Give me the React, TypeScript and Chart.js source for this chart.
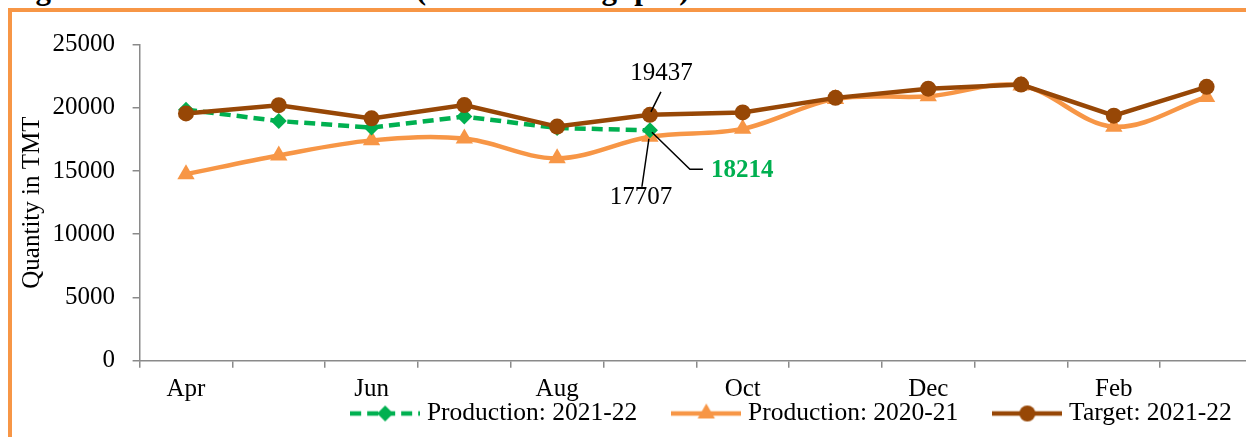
import React, { useEffect, useRef } from 'react';
import { Chart, registerables } from 'chart.js';

Chart.register(...registerables);

// ---- data ----
const MONTHS = ['Apr', 'May', 'Jun', 'Jul', 'Aug', 'Sep', 'Oct', 'Nov', 'Dec', 'Jan', 'Feb', 'Mar'];
const PROD_2021_22 = [19850, 18950, 18430, 19300, 18400, 18214];
const PROD_2020_21 = [14750, 16230, 17420, 17560, 16000, 17707, 18330, 20700, 20900, 21750, 18500, 20850];
const TARGET_2021_22 = [19550, 20200, 19160, 20210, 18510, 19437, 19630, 20780, 21510, 21830, 19370, 21650];
const Y_TICKS = [0, 5000, 10000, 15000, 20000, 25000];
const SERIES_NAMES = ['Production: 2021-22', 'Production: 2020-21', 'Target: 2021-22'];
const TITLE = 'Figure 3: Crude Oil Processed (Crude Throughput)';
const Y_TITLE = 'Quantity in TMT';
const CALLOUT_INDEX = 5;

// ---- styles ----
const GREEN = '#00B050';
const ORANGE = '#F79646';
const BROWN = '#974706';
const AXIS = '#8a8a8a';
const FONT = '"Liberation Serif", "Times New Roman", serif';
const LEGEND_TEXT_CENTER = 401.5; // canvas coords

function makeIcon(color: string, dash: number[], marker: string, lw: number, r: number) {
  const c = document.createElement('canvas');
  c.width = 70;
  c.height = 22;
  const ctx = c.getContext('2d') as CanvasRenderingContext2D;
  const cx = 35, cy = 11;
  ctx.strokeStyle = color;
  ctx.lineWidth = lw;
  ctx.setLineDash(dash);
  ctx.beginPath();
  ctx.moveTo(0, cy);
  ctx.lineTo(70, cy);
  ctx.stroke();
  ctx.setLineDash([]);
  ctx.fillStyle = color;
  ctx.beginPath();
  if (marker === 'circle') {
    ctx.arc(cx, cy, r, 0, Math.PI * 2);
  } else if (marker === 'triangle') {
    ctx.moveTo(cx, cy - r);
    ctx.lineTo(cx + r * 0.866, cy + r * 0.5);
    ctx.lineTo(cx - r * 0.866, cy + r * 0.5);
    ctx.closePath();
  } else {
    ctx.moveTo(cx, cy - r);
    ctx.lineTo(cx + r, cy);
    ctx.lineTo(cx, cy + r);
    ctx.lineTo(cx - r, cy);
    ctx.closePath();
  }
  ctx.fill();
  return c;
}

const legendShiftPlugin = {
  id: 'legendShift',
  afterLayout(chart: any) {
    const lg = chart.legend;
    if (!lg) return;
    const pad = lg.options.labels.padding;
    const fs = lg.options.labels.font.size;
    lg.top = LEGEND_TEXT_CENTER - pad - fs / 2;
    lg.bottom = chart.height;
    lg.height = lg.bottom - lg.top;
  },
};

const calloutPlugin = {
  id: 'callouts',
  afterDatasetsDraw(chart: any) {
    const ctx = chart.ctx as CanvasRenderingContext2D;
    const xs = chart.scales.x;
    const ys = chart.scales.y;
    const x = xs.getPixelForValue(CALLOUT_INDEX);
    const yT = ys.getPixelForValue(TARGET_2021_22[CALLOUT_INDEX]);
    const yP = ys.getPixelForValue(PROD_2020_21[CALLOUT_INDEX]);
    const yG = ys.getPixelForValue(PROD_2021_22[CALLOUT_INDEX]);
    ctx.save();
    ctx.strokeStyle = '#000';
    ctx.lineWidth = 1.5;
    ctx.beginPath();
    ctx.moveTo(x + 11, yT - 23);
    ctx.lineTo(x + 1, yT - 3);
    ctx.moveTo(x - 8, yP + 50);
    ctx.lineTo(x - 1, yP + 2);
    ctx.moveTo(x + 2, yG + 2);
    ctx.lineTo(x + 40, yG + 39);
    ctx.lineTo(x + 53, yG + 39);
    ctx.stroke();
    ctx.fillStyle = '#000';
    ctx.font = `25px ${FONT}`;
    ctx.textAlign = 'center';
    ctx.textBaseline = 'middle';
    ctx.fillText(String(TARGET_2021_22[CALLOUT_INDEX]), x + 11.5, yT - 41);
    ctx.fillText(String(PROD_2020_21[CALLOUT_INDEX]), x - 9, yP + 61);
    ctx.font = `bold 25px ${FONT}`;
    ctx.fillStyle = GREEN;
    ctx.textAlign = 'left';
    ctx.fillText(String(PROD_2021_22[CALLOUT_INDEX]), x + 61, yG + 40);
    ctx.restore();
  },
};

export default function App() {
  const ref = useRef<HTMLCanvasElement | null>(null);

  useEffect(() => {
    if (!ref.current) return;
    const icons = [
      makeIcon(GREEN, [11, 6], 'diamond', 4.5, 8),
      makeIcon(ORANGE, [], 'triangle', 4.5, 10),
      makeIcon(BROWN, [], 'circle', 4.5, 8),
    ];
    const chart = new Chart(ref.current, {
      type: 'line',
      data: {
        labels: MONTHS,
        datasets: [
          {
            label: SERIES_NAMES[0],
            data: PROD_2021_22,
            borderColor: GREEN,
            backgroundColor: GREEN,
            borderWidth: 4.5,
            borderDash: [11, 6],
            pointStyle: 'rectRot',
            pointRadius: 8,
            pointBackgroundColor: GREEN,
            pointBorderColor: GREEN,
            pointBorderWidth: 0,
            tension: 0,
            order: 2,
            yAxisID: 'y',
          },
          {
            label: SERIES_NAMES[1],
            data: PROD_2020_21,
            borderColor: ORANGE,
            backgroundColor: ORANGE,
            borderWidth: 4.5,
            pointStyle: 'triangle',
            pointRadius: 10,
            pointBackgroundColor: ORANGE,
            pointBorderColor: ORANGE,
            pointBorderWidth: 0,
            tension: 0.35,
            order: 3,
            yAxisID: 'y',
          },
          {
            label: SERIES_NAMES[2],
            data: TARGET_2021_22,
            borderColor: BROWN,
            backgroundColor: BROWN,
            borderWidth: 4.5,
            pointStyle: 'circle',
            pointRadius: 8,
            pointBackgroundColor: BROWN,
            pointBorderColor: BROWN,
            pointBorderWidth: 0,
            tension: 0,
            order: 1,
            yAxisID: 'y',
          },
        ],
      },
      options: {
        animation: false,
        responsive: false,
        maintainAspectRatio: false,
        devicePixelRatio: 1,
        layout: { padding: { top: 30.3, bottom: 0.3, left: 0, right: 0 } },
        plugins: {
          tooltip: { enabled: false },
          legend: {
            position: 'bottom',
            maxHeight: 32,
            labels: {
              usePointStyle: true,
              pointStyleWidth: 58,
              padding: 40,
              color: '#000',
              font: { family: FONT, size: 25.5 },
              generateLabels: (c: any) =>
                c.data.datasets.map((ds: any, i: number) => ({
                  text: ds.label,
                  fillStyle: 'transparent',
                  strokeStyle: 'transparent',
                  lineWidth: 0,
                  hidden: false,
                  datasetIndex: i,
                  pointStyle: icons[i],
                  fontColor: '#000',
                })),
            },
          },
        },
        scales: {
          x: {
            type: 'category',
            offset: true,
            grid: {
              display: true,
              drawOnChartArea: false,
              drawTicks: true,
              tickLength: 7,
              color: AXIS,
              lineWidth: 1.5,
              offset: true,
            },
            border: { display: true, color: AXIS, width: 1.5 },
            ticks: {
              autoSkip: false,
              maxRotation: 0,
              padding: 6.5,
              color: '#000',
              font: { family: FONT, size: 25 },
              callback: (_v: any, i: number) => (i % 2 === 0 ? MONTHS[i] : ''),
            },
            afterFit: (s: any) => {
              s.height = 44;
            },
          },
          y: {
            type: 'linear',
            position: 'left',
            min: 0,
            max: 25000,
            grid: {
              display: true,
              drawOnChartArea: false,
              drawTicks: true,
              tickLength: 7,
              color: AXIS,
              lineWidth: 1.5,
            },
            border: { display: true, color: AXIS, width: 1.5 },
            afterBuildTicks: (s: any) => {
              s.ticks = Y_TICKS.map((v) => ({ value: v }));
            },
            ticks: {
              padding: 17.5,
              color: '#000',
              font: { family: FONT, size: 25 },
              callback: (v: any) => String(v),
            },
            title: {
              display: true,
              text: Y_TITLE,
              color: '#000',
              font: { family: FONT, size: 25 },
              padding: { top: 5, bottom: 0 },
            },
            afterFit: (s: any) => {
              s.width = 127.6;
            },
          },
          yR: {
            type: 'linear',
            position: 'right',
            display: true,
            grid: { display: false, drawTicks: false },
            ticks: { display: false },
            border: { display: false },
            afterFit: (s: any) => {
              s.width = 323;
            },
          },
        },
      },
      plugins: [legendShiftPlugin, calloutPlugin],
    } as any);
    return () => chart.destroy();
  }, []);

  return (
    <div
      style={{
        position: 'fixed',
        left: 0,
        top: 0,
        width: 1246,
        height: 437,
        overflow: 'hidden',
        background: '#fff',
      }}
    >
      <div
        style={{
          position: 'absolute',
          left: 8,
          top: -27,
          font: `bold 31px ${FONT}`,
          lineHeight: '31px',
          whiteSpace: 'nowrap',
          color: '#000',
        }}
      >
        {TITLE}
      </div>
      <div
        style={{
          position: 'absolute',
          left: 8,
          top: 8,
          width: 2000,
          height: 1000,
          boxSizing: 'border-box',
          border: `4px solid ${ORANGE}`,
        }}
      />
      <canvas
        ref={ref}
        width={1564}
        height={425}
        style={{ position: 'absolute', left: 12, top: 12, width: 1564, height: 425 }}
      />
    </div>
  );
}
